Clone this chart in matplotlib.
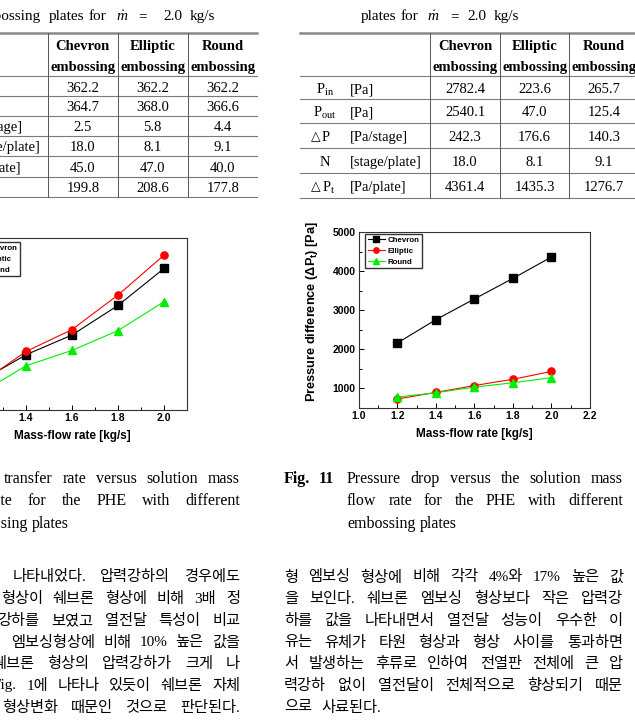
import matplotlib
matplotlib.use("Agg")
import matplotlib.pyplot as plt
from matplotlib.ticker import MultipleLocator

W, H = 635, 722

plt.rcParams['mathtext.fontset'] = 'custom'
plt.rcParams['mathtext.rm'] = 'Liberation Serif'
plt.rcParams['mathtext.it'] = 'Liberation Serif:italic'
plt.rcParams['mathtext.bf'] = 'Liberation Sans:bold'

# ---- data ----
flow = [1.2, 1.4, 1.6, 1.8, 2.0]
heat_chevron = [125.0, 142.6, 155.7, 175.3, 199.8]
heat_elliptic = [123.6, 144.8, 159.3, 182.2, 208.6]
heat_round = [117.0, 135.3, 145.5, 158.6, 177.8]
dp_chevron = [2165, 2760, 3290, 3815, 4361.4]
dp_elliptic = [730, 900, 1075, 1235, 1435.3]
dp_round = [780, 890, 1035, 1145, 1276.7]
plate_names = ['Chevron', 'Elliptic', 'Round']

# (triangle prefix, symbol, unit)
heat_labels = [('', r'T$_{\rm in}$', '[K]'), ('', r'T$_{\rm out}$', '[K]'),
               ('△', 'T', '[K/stage]'), ('', 'N', '[stage/plate]'),
               ('△', r'T$_{\rm t}$', '[K/plate]'), ('', 'Q', '[kW]')]
heat_values = [['362.2', '362.2', '362.2'],
               ['364.7', '368.0', '366.6'],
               ['2.5', '5.8', '4.4'],
               ['18.0', '8.1', '9.1'],
               ['45.0', '47.0', '40.0'],
               ['199.8', '208.6', '177.8']]

dp_labels = [('', r'P$_{\rm in}$', '[Pa]'), ('', r'P$_{\rm out}$', '[Pa]'),
             ('△', 'P', '[Pa/stage]'), ('', 'N', '[stage/plate]'),
             ('△', r'P$_{\rm t}$', '[Pa/plate]')]
dp_values = [['2782.4', '223.6', '265.7'],
             ['2540.1', '47.0', '125.4'],
             ['242.3', '176.6', '140.3'],
             ['18.0', '8.1', '9.1'],
             ['4361.4', '1435.3', '1276.7']]

text_left = [
    (13, ['나타내었다.', '압력강하의', '경우에도']),
    (1, ['형상이', '쉐브론', '형상에', '비해', '3배', '정']),
    (-3, ['강하를', '보였고', '열전달', '특성이', '비교']),
    (11, ['엠보싱형상에', '비해', '10%', '높은', '값을']),
    (-8, ['쉐브론', '형상의', '압력강하가', '크게', '나']),
    (-7, ['Fig.', '1에', '나타나', '있듯이', '쉐브론', '자체']),
    (2, ['형상변화', '때문인', '것으로', '판단된다.']),
]
text_right = [
    ['형', '엠보싱', '형상에', '비해', '각각', '4%와', '17%', '높은', '값'],
    ['을', '보인다.', '쉐브론', '엠보싱', '형상보다', '작은', '압력강'],
    ['하를', '값을', '나타내면서', '열전달', '성능이', '우수한', '이'],
    ['유는', '유체가', '타원', '형상과', '형상', '사이를', '통과하면'],
    ['서', '발생하는', '후류로', '인하여', '전열판', '전체에', '큰', '압'],
    ['력강하', '없이', '열전달이', '전체적으로', '향상되기', '때문'],
    ['으로', '사료된다.'],
]

serif = ['Liberation Serif', 'DejaVu Serif']
kor = ['Liberation Serif', 'Noto Sans CJK KR']

fig = plt.figure(figsize=(W / 100, H / 100), dpi=100)
page = fig.add_axes([0, 0, 1, 1])
page.set_xlim(0, W)
page.set_ylim(H, 0)
page.axis('off')
renderer = fig.canvas.get_renderer()


def px_rect(x0, y0, x1, y1):
    return [x0 / W, 1 - y1 / H, (x1 - x0) / W, (y1 - y0) / H]


def justify(words, x0, x1, y, stretch=True, space=4, **kw):
    ts = [page.text(0, y, w, va='center_baseline', ha='left', **kw) for w in words]
    widths = [t.get_window_extent(renderer=renderer).width for t in ts]
    if stretch and len(words) > 1:
        gap = (x1 - x0 - sum(widths)) / (len(words) - 1)
    else:
        gap = space
    x = x0
    for t, w in zip(ts, widths):
        t.set_x(x)
        x += w + gap


def draw_table(x_lines, x_left, x_right, rows_y, labels, values, sym_x, unit_x):
    page.plot([x_left, x_right], [rows_y[0]] * 2, color='#8a8a8a', lw=1.8)
    for y in rows_y[1:]:
        page.plot([x_left, x_right], [y, y], color='#7a7a7a', lw=0.8)
    for x in x_lines:
        page.plot([x, x], [rows_y[0], rows_y[-1]], color='#555555', lw=0.7)
    edges = [x_lines[0], x_lines[1], x_lines[2], x_lines[2] + (x_lines[2] - x_lines[1])]
    tk = dict(fontsize=10.5, family=serif, va='center_baseline')
    for i, name in enumerate(plate_names):
        cx = (edges[i] + edges[i + 1]) / 2
        page.text(cx, 45, name, ha='center', fontweight='bold', **tk)
        page.text(cx, 66, 'embossing', ha='center', fontweight='bold', **tk)
    for r in range(len(values)):
        cy = (rows_y[r + 1] + rows_y[r + 2]) / 2 + 0.5
        tri, sym, unit = labels[r]
        if tri:
            page.text(sym_x - 2, cy, tri, ha='right', fontsize=9,
                      family='DejaVu Sans', va='center_baseline')
            page.text(sym_x - 1, cy, sym, ha='left', **tk)
        else:
            page.text(sym_x + 2, cy, sym, ha='center', **tk)
        page.text(unit_x, cy, unit, ha='left', **tk)
        for i in range(3):
            cx = (edges[i] + edges[i + 1]) / 2
            page.text(cx, cy, values[r][i], ha='center', **tk)


# ---- table titles ----
title = dict(va='center_baseline', fontsize=11, family=serif)
page.text(40, 15, 'embossing', ha='right', **title)
for x, s in [(49, 'plates'), (89, 'for'), (116, r'$\dot{m}$'),
             (138, '='), (163, '2.0'), (190, 'kg/s')]:
    page.text(x, 15, s, ha='left', **title)
for x, s in [(361, 'plates'), (401, 'for'), (427, r'$\dot{m}$'),
             (450, '='), (467, '2.0'), (494, 'kg/s')]:
    page.text(x, 15, s, ha='left', **title)

# ---- tables ----
draw_table([48, 117.7, 187.7], -5, 257,
           [33, 76, 96, 115.5, 135.5, 156, 176.5, 197.3],
           heat_labels, heat_values, -47, -31)
draw_table([430, 500, 569.3], 300, 640,
           [33, 76, 99, 122.7, 147.7, 172.7, 197.7],
           dp_labels, dp_values, 323, 350)


# ---- charts ----
def style_axes(ax):
    for s in ax.spines.values():
        s.set_linewidth(0.8)
        s.set_color('#333333')
    ax.tick_params(which='both', direction='in', top=False, right=False,
                   labelsize=7.5, pad=2.5, width=0.7)
    ax.tick_params(which='major', length=3.5)
    ax.tick_params(which='minor', length=2)
    for lab in ax.get_xticklabels() + ax.get_yticklabels():
        lab.set_fontweight('bold')
        lab.set_family('Liberation Sans')


def add_legend(ax, anchor):
    ax.legend(loc='upper left', bbox_to_anchor=anchor, borderaxespad=0,
              fancybox=False, edgecolor='#333333', framealpha=1,
              prop={'family': 'Liberation Sans', 'weight': 'bold', 'size': 5.7},
              handlelength=2.2, labelspacing=0.42, handletextpad=0.3,
              borderpad=0.35, markerscale=0.75)


line_kw = dict(lw=0.8, markersize=5.2)

axL = fig.add_axes(px_rect(-43, 238, 187, 410))
axL.plot(flow, heat_chevron, color='black', marker='s', label='Chevron', **line_kw)
axL.plot(flow, heat_elliptic, color='#ff0000', marker='o', label='Elliptic', **line_kw)
axL.plot(flow, heat_round, color='#00ee00', marker='^', label='Round', **line_kw)
axL.set_xlim(1.1, 2.1)
axL.set_ylim(106, 220)
axL.set_xticks([1.2, 1.4, 1.6, 1.8, 2.0])
axL.set_xticklabels(['1.2', '1.4', '1.6', '1.8', '2.0'])
axL.xaxis.set_minor_locator(MultipleLocator(0.1))
axL.set_xlabel('Mass-flow rate [kg/s]', fontsize=8.5, fontweight='bold',
               family='Liberation Sans', labelpad=5)
style_axes(axL)
add_legend(axL, (6 / 230, 1 - 3.5 / 172))

axR = fig.add_axes(px_rect(359, 232, 590, 408))
axR.plot(flow, dp_chevron, color='black', marker='s', label='Chevron', **line_kw)
axR.plot(flow, dp_elliptic, color='#ff0000', marker='o', label='Elliptic', **line_kw)
axR.plot(flow, dp_round, color='#00ee00', marker='^', label='Round', **line_kw)
axR.set_xlim(1.0, 2.2)
axR.set_ylim(500, 5000)
axR.set_xticks([1.0, 1.2, 1.4, 1.6, 1.8, 2.0, 2.2])
axR.set_xticklabels(['1.0', '1.2', '1.4', '1.6', '1.8', '2.0', '2.2'])
axR.xaxis.set_minor_locator(MultipleLocator(0.1))
axR.set_yticks([1000, 2000, 3000, 4000, 5000])
axR.yaxis.set_minor_locator(MultipleLocator(500))
axR.set_xlabel('Mass-flow rate [kg/s]', fontsize=8.5, fontweight='bold',
               family='Liberation Sans', labelpad=5)
axR.set_ylabel(r'Pressure difference ($\mathbf{\Delta P_t}$) [Pa]', fontsize=9.2,
               fontweight='bold', family='Liberation Sans', labelpad=4)
axR.yaxis.set_label_coords(-0.17, 0.55)
style_axes(axR)
add_legend(axR, (6 / 231, 1 - 1.5 / 176))

# ---- captions ----
cap = dict(fontsize=11.5, family=serif)
justify(['transfer', 'rate', 'versus', 'solution', 'mass'], 4, 240, 477, **cap)
justify(['rate', 'for', 'the', 'PHE', 'with', 'different'], -11, 240, 499, **cap)
justify(['embossing', 'plates'], -41, 240, 522, stretch=False, **cap)

page.text(284, 477, 'Fig.', ha='left', va='center_baseline', fontweight='bold', **cap)
page.text(319, 477, '11', ha='left', va='center_baseline', fontweight='bold', **cap)
justify(['Pressure', 'drop', 'versus', 'the', 'solution', 'mass'], 347, 623, 477, **cap)
justify(['flow', 'rate', 'for', 'the', 'PHE', 'with', 'different'], 347, 623, 499, **cap)
justify(['embossing', 'plates'], 347, 623, 522, stretch=False, **cap)

# ---- body text ----
body = dict(fontsize=11, family=kor)
for i, (x0, words) in enumerate(text_left):
    justify(words, x0, 240, 576 + i * 21.7, **body)
for i, words in enumerate(text_right):
    justify(words, 284, 623, 576 + i * 21.7, stretch=(i < len(text_right) - 1),
            space=9, **body)

fig.savefig('out.png', dpi=100)
